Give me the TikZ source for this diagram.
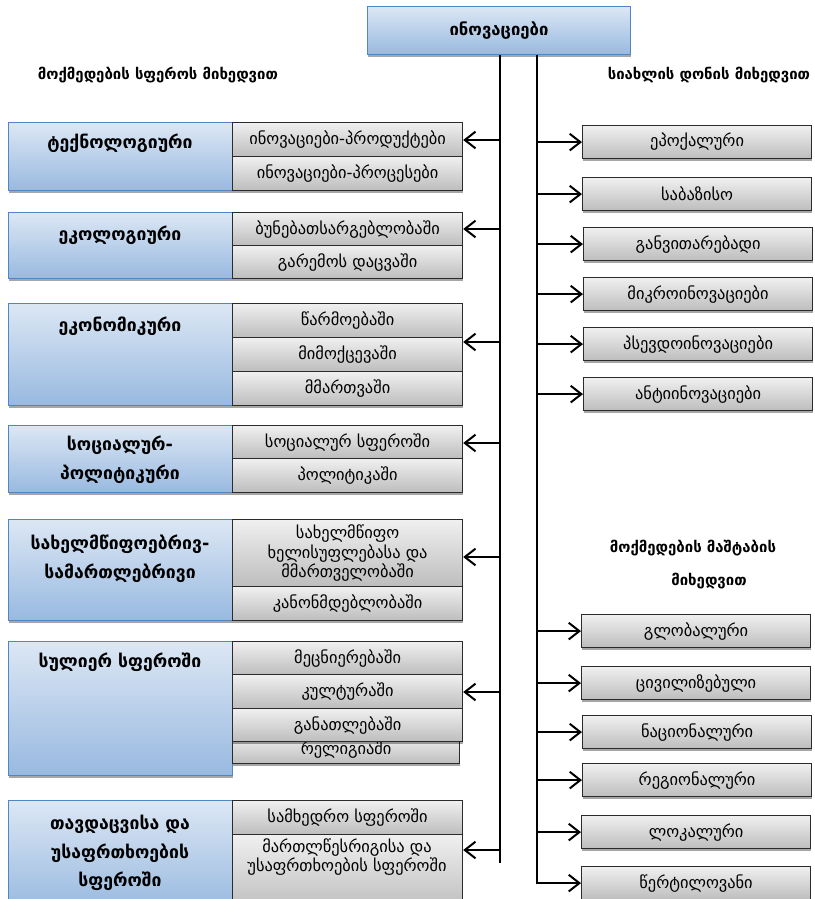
\documentclass[tikz,border=0pt]{standalone}
\usepackage{fontspec}
\setmainfont{DejaVu Sans}
\usetikzlibrary{shadows,arrows.meta}
\definecolor{bluetop}{HTML}{DCE7F4}
\definecolor{bluebot}{HTML}{98B9E0}
\definecolor{blueedge}{HTML}{4F86C6}
\definecolor{graytop}{HTML}{F0F0F0}
\definecolor{graybot}{HTML}{BDBDBD}
\definecolor{grayedge}{HTML}{2B2B2B}
\begin{document}
\begin{tikzpicture}[x=0.75pt,y=-0.75pt,
  shadowed/.style={drop shadow={shadow xshift=0.4pt,shadow yshift=-1.8pt,fill=black,opacity=0.35}},
  hh/.style={minimum height=#1*0.75pt},
  ww/.style={minimum width=#1*0.75pt},
  bluebox/.style={draw=blueedge,line width=0.8pt,top color=bluetop,bottom color=bluebot,
    anchor=north west,inner sep=0pt,ww=224,shadowed},
  graybox/.style={draw=grayedge,line width=0.9pt,top color=graytop,bottom color=graybot,
    anchor=north west,inner sep=0pt,ww=230,shadowed,align=center,
    font=\fontsize{12.3}{14.2}\selectfont},
  rbox/.style={graybox,ww=229,hh=33},
  ttl/.style={align=center,inner sep=0pt,font=\fontsize{13.2}{21.5}\selectfont\bfseries},
  hdr/.style={inner sep=0pt,font=\fontsize{11.2}{13}\selectfont\bfseries},
  gtxt/.style={align=center,inner sep=0pt,font=\fontsize{12.3}{14}\selectfont},
  trunk/.style={line width=1.5pt},
  arr/.style={line width=1.5pt,line join=miter,-{Straight Barb[length=8pt,width=12.5pt]}}
]
\useasboundingbox (0,0) rectangle (814,899);
\clip (0,0) rectangle (814,899);

% top
\node[bluebox,ww=263,hh=48,font=\fontsize{12.5}{14}\selectfont\bfseries] (top) at (367,6) {ინოვაციები};

% headings
\node[hdr] (h1) at (158,75) {მოქმედების სფეროს მიხედვით};
\node[hdr] (h2) at (709,75) {სიახლის დონის მიხედვით};
\node[hdr] (h3) at (693,548) {მოქმედების მაშტაბის};
\node[hdr] (h4) at (709,581) {მიხედვით};

% technological
\node[bluebox,hh=68] (tech) at (8,122) {};
\node[ttl] (techT) at (120,143) {ტექნოლოგიური};
\node[graybox,hh=34] (tech1) at (232,122) {ინოვაციები-პროდუქტები};
\node[graybox,hh=34] (tech2) at (232,156) {ინოვაციები-პროცესები};

% ecological
\node[bluebox,hh=66] (eco) at (8,212) {};
\node[ttl] (ecoT) at (120,235) {ეკოლოგიური};
\node[graybox,hh=33] (eco1) at (232,212) {ბუნებათსარგებლობაში};
\node[graybox,hh=33] (eco2) at (232,245) {გარემოს დაცვაში};

% economic
\node[bluebox,hh=102] (econ) at (8,303) {};
\node[ttl] (econT) at (120,326) {ეკონომიკური};
\node[graybox,hh=34] (econ1) at (232,303) {წარმოებაში};
\node[graybox,hh=34] (econ2) at (232,337) {მიმოქცევაში};
\node[graybox,hh=34] (econ3) at (232,371) {მმართვაში};

% socio-political
\node[bluebox,hh=67] (soc) at (8,425) {};
\node[ttl] (socT) at (120,460) {სოციალურ-\\პოლიტიკური};
\node[graybox,hh=33] (soc1) at (232,425) {სოციალურ სფეროში};
\node[graybox,hh=34] (soc2) at (232,458) {პოლიტიკაში};

% state-legal
\node[bluebox,hh=101] (st) at (8,519) {};
\node[ttl] (stT) at (120,559) {სახელმწიფოებრივ-\\სამართლებრივი};
\node[graybox,hh=67,font=\fontsize{12.3}{14.6}\selectfont] (st1) at (232,519) {სახელმწიფო\\ხელისუფლებასა და\\მმართველობაში};
\node[graybox,hh=34] (st2) at (232,586) {კანონმდებლობაში};

% spiritual
\node[bluebox,hh=134] (sp) at (8,641) {};
\node[ttl] (spT) at (120,662) {სულიერ სფეროში};
\node[graybox,ww=227,hh=28] (sp4) at (232,735) {რელიგიაში};
\node[graybox,hh=33] (sp1) at (232,641) {მეცნიერებაში};
\node[graybox,hh=34] (sp2) at (232,674) {კულტურაში};
\node[graybox,hh=33] (sp3) at (232,708) {განათლებაში};

% defence
\node[bluebox,hh=110] (def) at (8,800) {};
\node[ttl] (defT) at (120,853) {თავდაცვისა და\\უსაფრთხოების\\სფეროში};
\node[graybox,hh=34] (def1) at (232,800) {სამხედრო სფეროში};
\node[graybox,hh=76] (def2) at (232,834) {};
\node[gtxt] (def2T) at (347,857) {მართლწესრიგისა და\\უსაფრთხოების სფეროში};

% right: novelty level
\node[rbox] (r1) at (582,125) {ეპოქალური};
\node[rbox] (r2) at (582,177) {საბაზისო};
\node[rbox] (r3) at (583,227) {განვითარებადი};
\node[rbox] (r4) at (583,277) {მიკროინოვაციები};
\node[rbox] (r5) at (583,327) {პსევდოინოვაციები};
\node[rbox] (r6) at (583,377) {ანტიინოვაციები};

% right: scale
\node[rbox] (r7) at (581,614) {გლობალური};
\node[rbox] (r8) at (581,666) {ცივილიზებული};
\node[rbox] (r9) at (582,715) {ნაციონალური};
\node[rbox] (r10) at (582,763) {რეგიონალური};
\node[rbox] (r11) at (581,815) {ლოკალური};
\node[rbox] (r12) at (581,866) {წერტილოვანი};

% trunks
\coordinate (lx) at (500,0);
\coordinate (rx) at (537,0);
\coordinate (lbot) at (500,863);
\draw[trunk] (top.south -| lx) -- (lbot);
\draw[arr] (top.south -| rx) -- (rx |- r12.west) -- (r12.west);

% left arrows
\coordinate (ya1) at (0,140);
\coordinate (ya2) at (0,229);
\coordinate (ya3) at (0,342);
\coordinate (ya4) at (0,443);
\coordinate (ya5) at (0,557);
\coordinate (ya6) at (0,692);
\coordinate (ya7) at (0,850);
\draw[arr] (lx |- ya1) -- (tech1.east |- ya1);
\draw[arr] (lx |- ya2) -- (eco1.east |- ya2);
\draw[arr] (lx |- ya3) -- (econ2.east |- ya3);
\draw[arr] (lx |- ya4) -- (soc1.east |- ya4);
\draw[arr] (lx |- ya5) -- (st1.east |- ya5);
\draw[arr] (lx |- ya6) -- (sp2.east |- ya6);
\draw[arr] (lx |- ya7) -- (def2.east |- ya7);

% right arrows
\foreach \n in {r1,r2,r3,r4,r5,r6,r7,r8,r9,r10,r11}
  \draw[arr] (rx |- \n.west) -- (\n.west);
\end{tikzpicture}
\end{document}
